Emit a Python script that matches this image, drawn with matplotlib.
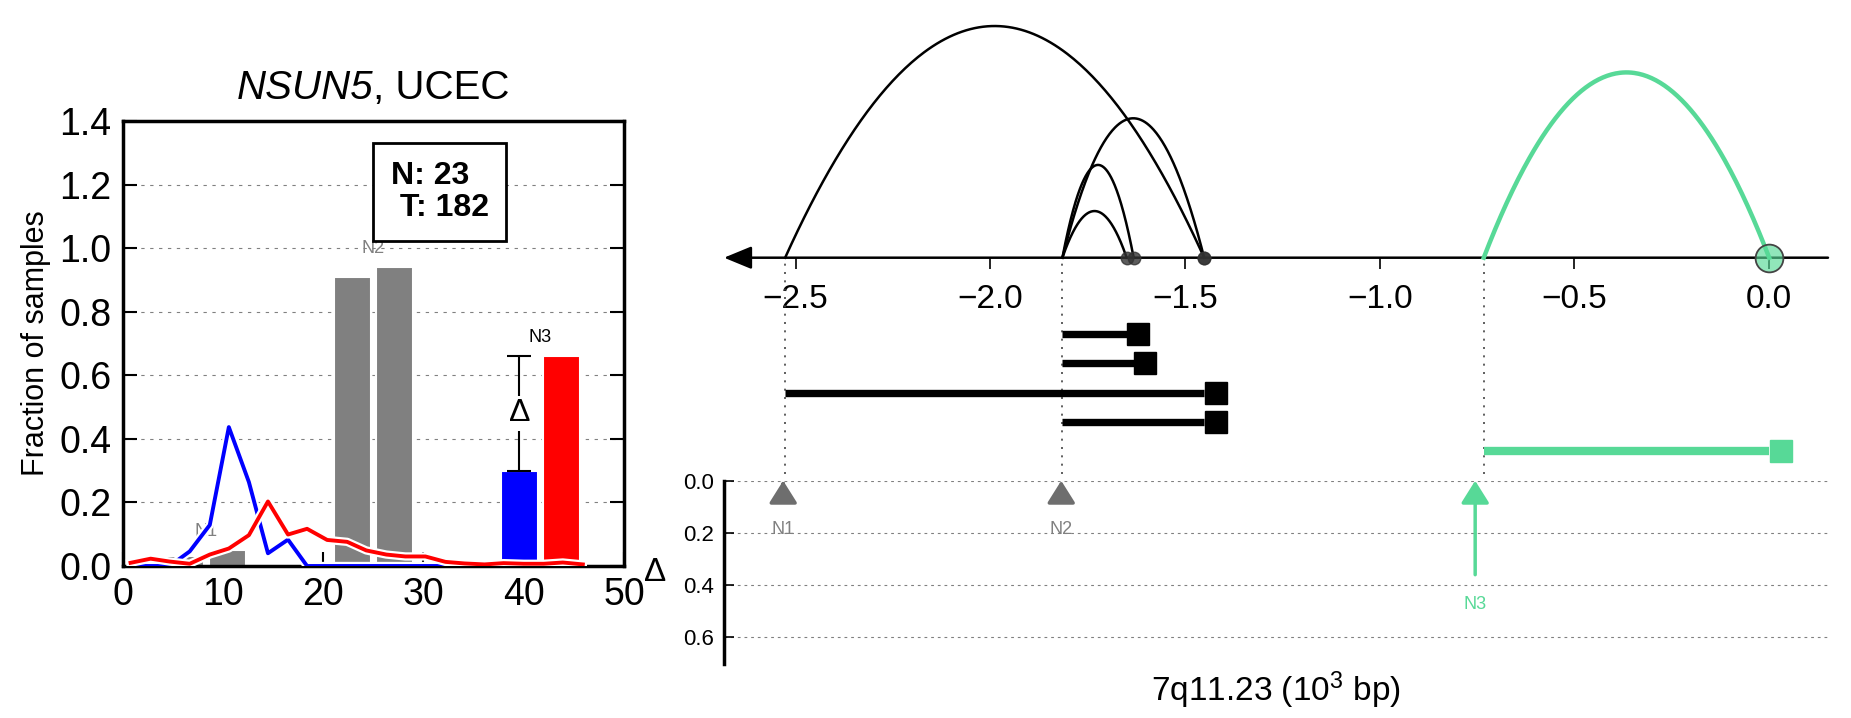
import matplotlib
matplotlib.use('Agg')
import matplotlib.pyplot as plt
import matplotlib.patheffects as pe
from matplotlib.transforms import offset_copy
import numpy as np

plt.rcParams['font.family'] = ['Liberation Sans', 'DejaVu Sans']
plt.rcParams['mathtext.fontset'] = 'custom'
plt.rcParams['mathtext.rm'] = 'Liberation Sans'
plt.rcParams['mathtext.it'] = 'Liberation Sans:italic'

# ---- left panel: fraction of samples per fragment size bin
bin_x = [0.8, 2.8, 4.7, 6.7, 8.7, 10.6, 12.6, 14.5, 16.5, 18.4, 20.4, 22.4,
         24.3, 26.3, 28.2, 30.2, 32.2, 34.1, 36.1, 38.0, 40.0, 42.0, 43.9, 45.9]
normal_line = [0, 0, 0, 0.046, 0.129, 0.437, 0.264, 0.040, 0.083, 0, 0, 0,
               0, 0, 0, 0, 0, 0, 0, 0, 0, 0, 0, 0]
tumor_line = [0.010, 0.023, 0.014, 0.007, 0.036, 0.055, 0.097, 0.203, 0.099,
              0.117, 0.082, 0.076, 0.049, 0.036, 0.030, 0.030, 0.013, 0.008,
              0.005, 0.009, 0.007, 0.007, 0.011, 0.005]

peak_labels = ['N1', 'N2', 'N3']
peak_pos = [8.33, 25.0, 41.67]
normal_frac = [0.03, 0.91, 0.30]
tumor_frac = [0.05, 0.94, 0.66]
n_normal, n_tumor = 23, 182
gene, cancer = 'NSUN5', 'UCEC'

# ---- right panel: genomic position (10^3 bp)
ev_start = [-1.815, -1.815, -2.527, -1.815, -0.733]
ev_end = [-1.650, -1.632, -1.451, -1.451, 0.0]
arc_height = [0.181, 0.360, 0.899, 0.541, 0.719]
ev_sig = [False, False, False, False, True]
peak_site = [-2.532, -1.818, -0.755]
peak_delta = [0.02, 0.03, 0.36]

green = '#57d997'

fig = plt.figure(figsize=(18.51, 7.18), dpi=100)

# ---------------- left axes
ax = fig.add_axes([0.0662, 0.2117, 0.2709, 0.6198])
bw = 3.7
for lab, c, n, t in zip(peak_labels, peak_pos, normal_frac, tumor_frac):
    sig = lab == 'N3'
    ax.bar(c - 2.1, n, width=bw, color='blue' if sig else 'gray',
           edgecolor='white', linewidth=1.5, zorder=2)
    ax.bar(c + 2.1, t, width=bw, color='red' if sig else 'gray',
           edgecolor='white', linewidth=1.5, zorder=2)
    ax.text(c, max(n, t) + 0.06, lab, ha='center', va='center', fontsize=13,
            color='black' if sig else 'gray', zorder=2.5)

stroke = [pe.Stroke(linewidth=6, foreground='white'), pe.Normal()]
ax.plot(bin_x, normal_line, color='blue', lw=2.8, path_effects=stroke, zorder=3)
ax.plot(bin_x, tumor_line, color='red', lw=2.8, path_effects=stroke, zorder=3)

# delta between normal and tumor at the significant peak
ex = peak_pos[2] - 2.1
lo, hi = normal_frac[2], tumor_frac[2]
ax.errorbar(ex, (lo + hi) / 2, yerr=(hi - lo) / 2, color='black', elinewidth=1.5,
            capsize=8.5, capthick=1.5, zorder=4)
ax.text(ex, (lo + hi) / 2, 'Δ', fontsize=23, ha='center', va='center', zorder=5,
        bbox=dict(facecolor='white', edgecolor='none', pad=2))

ax.text(0.535, 0.91, 'N: %d\n T: %d' % (n_normal, n_tumor), transform=ax.transAxes,
        fontsize=23, fontweight='bold', va='top', ha='left', linespacing=1.1,
        bbox=dict(boxstyle='square,pad=0.55', facecolor='white', edgecolor='black', lw=2),
        zorder=6)

ax.set_xlim(0, 50)
ax.set_ylim(0, 1.4)
ax.set_xticks(range(0, 51, 10))
ax.set_yticks(np.arange(0, 1.41, 0.2))
ax.tick_params(direction='in', length=10, width=1.5, labelsize=27, pad=8,
               top=False, right=True)
for s in ax.spines.values():
    s.set_linewidth(2.5)
ax.yaxis.grid(True, linestyle=(0, (3, 5)), color='gray', lw=0.8)
ax.set_axisbelow(True)
ax.set_ylabel('Fraction of samples', fontsize=22, labelpad=6)
# title: italic gene name, upright cancer type
ax.annotate(gene, xy=(0.5, 1), xycoords='axes fraction', xytext=(0, 16),
            textcoords='offset points', ha='right', va='baseline', fontsize=29,
            fontstyle='italic')
ax.annotate(', ' + cancer, xy=(0.5, 1), xycoords='axes fraction', xytext=(0, 16),
            textcoords='offset points', ha='left', va='baseline', fontsize=29)

# ---------------- right: arcs
xmin, xmax = -2.684, 0.151
ax_arc = fig.add_axes([0.39114, 0.64109, 0.59643, 0.35891])
ax_arc.set_xlim(xmin, xmax)
ax_arc.set_ylim(0, 1)
for s in ax_arc.spines.values():
    s.set_visible(False)
ax_arc.set_yticks([])
ax_arc.set_xticks(np.arange(-2.5, 0.01, 0.5))
ax_arc.tick_params(axis='x', direction='out', length=8, width=1.2, pad=11, labelsize=24)
ax_arc.annotate('', xy=(xmin, 0), xytext=(xmax, 0), annotation_clip=False,
                arrowprops=dict(arrowstyle='-|>,head_length=0.85,head_width=0.35',
                                color='black', lw=1.8, mutation_scale=20,
                                shrinkA=0, shrinkB=0, clip_on=False))

for s, e, h, sig in zip(ev_start, ev_end, arc_height, ev_sig):
    tt = np.linspace(-1, 1, 200)
    xs = (s + e) / 2 + tt * (e - s) / 2
    ys = h * (1 - tt ** 2)
    if sig:
        ax_arc.plot(xs, ys, color=green, lw=3.2, clip_on=False, zorder=3)
        ax_arc.plot(e, 0, 'o', ms=20, mfc=(0.34, 0.85, 0.59, 0.65), mec='#444444',
                    mew=1.3, clip_on=False, zorder=4)
    else:
        ax_arc.plot(xs, ys, color='black', lw=1.8, clip_on=False, zorder=3)
        ax_arc.plot(e, 0, 'o', ms=9, color='#333333', alpha=0.8, clip_on=False, zorder=4)

# ---------------- right: event bars
ax_bar = fig.add_axes([0.39114, 0.3305, 0.59643, 0.31059])
ax_bar.set_xlim(xmin, xmax)
ax_bar.set_ylim(5.02, -2.62)
ax_bar.axis('off')
for b in sorted(set(ev_start)):
    ax_bar.axvline(b, ymin=0.03, ymax=1, color='#444444', lw=1.2,
                   linestyle=(0, (1.2, 3.8)))
sq_tr = offset_copy(ax_bar.transData, fig=fig, x=8.25, units='points')
for i, (s, e, sig) in enumerate(zip(ev_start, ev_end, ev_sig)):
    c = green if sig else 'black'
    ax_bar.plot([s, e], [i, i], color=c, lw=6 if sig else 5.3, solid_capstyle='butt')
    ax_bar.plot(e, i, 's', ms=16.5, color=c, transform=sq_tr)

# ---------------- right: delta axis
ax_d = fig.add_axes([0.39114, 0.0752, 0.59643, 0.2553])
ax_d.set_xlim(xmin, xmax)
ax_d.set_ylim(0.702, 0)
for k in ['top', 'right', 'bottom']:
    ax_d.spines[k].set_visible(False)
ax_d.spines['left'].set_linewidth(2.5)
ax_d.set_xticks([])
ax_d.set_yticks([0, 0.2, 0.4, 0.6])
ax_d.tick_params(axis='y', direction='in', length=7, width=1.2, labelsize=16, pad=7)
ax_d.yaxis.grid(True, linestyle=(0, (2.5, 3.5)), color='gray', lw=0.8)
ax_d.set_ylabel('Δ', rotation=0, fontsize=24, va='center', ha='center')
ax_d.yaxis.set_label_coords(-0.0625, 0.5)
ax_d.set_xlabel('7q11.23 (10$^3$ bp)', fontsize=24, labelpad=4)

for lab, p, d in zip(peak_labels, peak_site, peak_delta):
    c = green if lab == 'N3' else '#6e6e6e'
    ax_d.annotate('', xy=(p, 0), xytext=(p, d), annotation_clip=False,
                  arrowprops=dict(arrowstyle='-|>,head_length=0.685,head_width=0.43',
                                  color=c, lw=2.5, mutation_scale=20,
                                  shrinkA=0, shrinkB=0, clip_on=False))
    ax_d.text(p, max(d, 0.073) + 0.113, lab, ha='center', va='center', fontsize=13,
              color=green if lab == 'N3' else 'gray')

fig.savefig('out.png', dpi=100)
